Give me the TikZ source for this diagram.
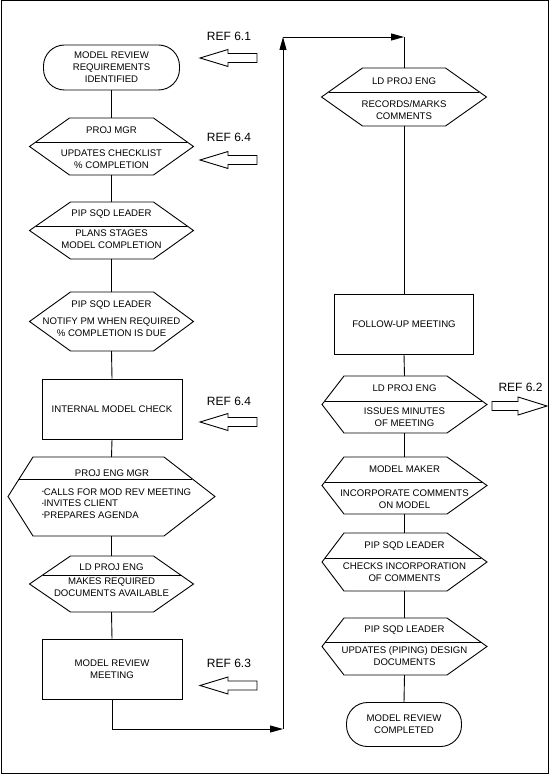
\documentclass[tikz,border=0pt]{standalone}
\usepackage{fontspec}
\setmainfont{Liberation Sans}
\usetikzlibrary{arrows.meta}
% name, cx, top, bottom, half width, left inset, right inset
\newcommand\hexa[7]{%
  \coordinate (#1-n) at (#2,#3);
  \coordinate (#1-s) at (#2,#4);
  \draw[shapeline] ({#2-#5},{(#3+#4)/2}) -- ({#2-#5+#6},#3) -- ({#2+#5-#7},#3)
    -- ({#2+#5},{(#3+#4)/2}) -- ({#2+#5-#7},#4) -- ({#2-#5+#6},#4) -- cycle;
}
% cx, top, bottom, divider y, half width, left inset, right inset
\newcommand\hexdiv[7]{%
  \pgfmathsetmacro\hdf{abs(#4-(#2+#3)/2)/((#3-#2)/2)}%
  \draw[shapeline] ({#1-#5+#6*\hdf},#4) -- ({#1+#5-#7*\hdf},#4);
}
% block arrow pointing left: y centre
\newcommand\leftarrowblock[1]{%
  \draw[shapeline] (257,{#1-4.5}) -- (228,{#1-4.5}) -- (228,{#1-8.5}) -- (200,#1)
    -- (228,{#1+8.5}) -- (228,{#1+4.5}) -- (257,{#1+4.5}) -- cycle;
}
\newcommand\bul{\raisebox{0.3ex}{\fontsize{5}{5}\selectfont\textbullet}}
\begin{document}
\begin{tikzpicture}[x=1pt,y=-1pt,
  every node/.style={font=\fontsize{9.6}{12}\selectfont, inner sep=0pt, align=center},
  box/.style={draw, line width=0.9pt, minimum width=140pt, minimum height=60pt},
  term/.style={draw, line width=0.9pt, rounded corners=21pt},
  conn/.style={line width=0.9pt},
  flow/.style={conn, -{Triangle[length=13pt,width=7pt]}},
  shapeline/.style={line width=0.9pt, line join=miter},
  reftext/.style={font=\fontsize{12}{14}\selectfont}]
\useasboundingbox (0,0) rectangle (552,775);
\draw[line width=1pt] (1,1) rectangle (548.5,773.5);

% ---------- left column ----------
\node[term, minimum width=136pt, minimum height=45pt] (t1) at (111.5,67.5)
  {MODEL REVIEW\\REQUIREMENTS\\IDENTIFIED};

\hexa{h1}{111.5}{118}{175}{82}{40}{40}
\hexdiv{111.5}{118}{175}{142}{82}{40}{40}
\node (h1r) at (111.5,130.5) {PROJ MGR};
\node (h1a) at (111.5,159) {UPDATES CHECKLIST\\\% COMPLETION};

\hexa{h2}{111.5}{202}{259}{82}{41}{40}
\hexdiv{111.5}{202}{259}{226}{82}{41}{40}
\node (h2r) at (111.5,214) {PIP SQD LEADER};
\node (h2a) at (111.5,239.5) {PLANS STAGES\\MODEL COMPLETION};

\hexa{h3}{111.5}{292}{351}{82}{41}{40}
\node (h3r) at (111.5,305) {PIP SQD LEADER};
\node (h3a) at (111.5,327.5) {NOTIFY PM WHEN REQUIRED\\\% COMPLETION IS DUE};

\node[box] (imc) at (112,409) {INTERNAL MODEL CHECK};

\hexa{h4}{111.5}{457}{536}{103.5}{25}{51}
\hexdiv{111.5}{457}{536}{479}{103.5}{25}{51}
\node (h4r) at (112,473) {PROJ ENG MGR};
\node[align=left, anchor=west, font=\fontsize{9.6}{11.6}\selectfont] (h4a) at (42,503.5)
  {\bul CALLS FOR MOD REV MEETING\\\bul INVITES CLIENT\\\bul PREPARES AGENDA};

\hexa{h5}{111.5}{556}{612}{82}{41}{40}
\hexdiv{111.5}{556}{612}{575}{82}{41}{40}
\node (h5r) at (111.5,567.5) {LD PROJ ENG};
\node (h5a) at (111.5,587) {MAKES REQUIRED\\DOCUMENTS AVAILABLE};

\node[box] (mrm) at (112,669) {MODEL REVIEW\\MEETING};

% ---------- right column ----------
\hexa{r1}{404}{68}{126}{82.5}{41}{41}
\hexdiv{404}{68}{126}{92}{82.5}{41}{41}
\node (r1r) at (404,81.5) {LD PROJ ENG};
\node (r1a) at (404,110) {RECORDS/MARKS\\COMMENTS};

\node[box, minimum width=139pt] (fu) at (404,324) {FOLLOW-UP MEETING};

\hexa{r2}{404.5}{376}{433}{82.5}{22}{40}
\hexdiv{404.5}{376}{433}{401}{82.5}{22}{40}
\node (r2r) at (404.5,388.5) {LD PROJ ENG};
\node (r2a) at (404.5,417.5) {ISSUES MINUTES\\OF MEETING};

\hexa{r3}{404.5}{457}{514}{82.5}{22}{40}
\hexdiv{404.5}{457}{514}{482}{82.5}{22}{40}
\node (r3r) at (404.5,469) {MODEL MAKER};
\node (r3a) at (404.5,499) {INCORPORATE COMMENTS\\ON MODEL};

\hexa{r4}{404.5}{533}{591}{82.5}{22}{40}
\hexdiv{404.5}{533}{591}{558}{82.5}{22}{40}
\node (r4r) at (404.5,546.5) {PIP SQD LEADER};
\node (r4a) at (404.5,572) {CHECKS INCORPORATION\\OF COMMENTS};

\hexa{r5}{404.5}{618}{675}{82.5}{22}{40}
\hexdiv{404.5}{618}{675}{642}{82.5}{22}{40}
\node (r5r) at (404.5,630) {PIP SQD LEADER};
\node (r5a) at (404.5,656) {UPDATES (PIPING) DESIGN\\DOCUMENTS};

\node[term, minimum width=115pt, minimum height=44pt] (t2) at (404,724.5)
  {MODEL REVIEW\\COMPLETED};

% ---------- connectors ----------
\draw[conn] (t1.south) -- (h1-n);
\draw[conn] (h1-s) -- (h2-n);
\draw[conn] (h2-s) -- (h3-n);
\draw[conn] (h3-s) -- (imc.north);
\draw[conn] (imc.south) -- (h4-n);
\draw[conn] (h4-s) -- (h5-n);
\draw[conn] (h5-s) -- (mrm.north);
\coordinate (c1) at (283,729);
\coordinate (c2) at (283,37);
\coordinate (c3) at (404,37);
\draw[flow] (mrm.south) |- (c1);
\draw[flow] (c1) -- (c2);
\draw[flow] (c2) -- (c3);
\draw[conn] (c3) -- (r1-n);
\draw[conn] (r1-s) -- (fu.north);
\draw[conn] (fu.south) -- (r2-n);
\draw[conn] (r2-s) -- (r3-n);
\draw[conn] (r3-s) -- (r4-n);
\draw[conn] (r4-s) -- (r5-n);
\draw[conn] (r5-s) -- (t2.north);

% ---------- references ----------
\node[reftext] (ref1) at (229,36) {REF 6.1};
\leftarrowblock{58}
\node[reftext] (ref2) at (229,137) {REF 6.4};
\leftarrowblock{160}
\node[reftext] (ref3) at (229,401) {REF 6.4};
\leftarrowblock{422}
\node[reftext] (ref4) at (229,663) {REF 6.3};
\leftarrowblock{685.5}
\node[reftext] (ref5) at (520.5,387) {REF 6.2};
\draw[shapeline] (492,401.5) -- (518,401.5) -- (518,397) -- (547,406)
  -- (518,415) -- (518,410.5) -- (492,410.5) -- cycle;
\end{tikzpicture}
\end{document}
